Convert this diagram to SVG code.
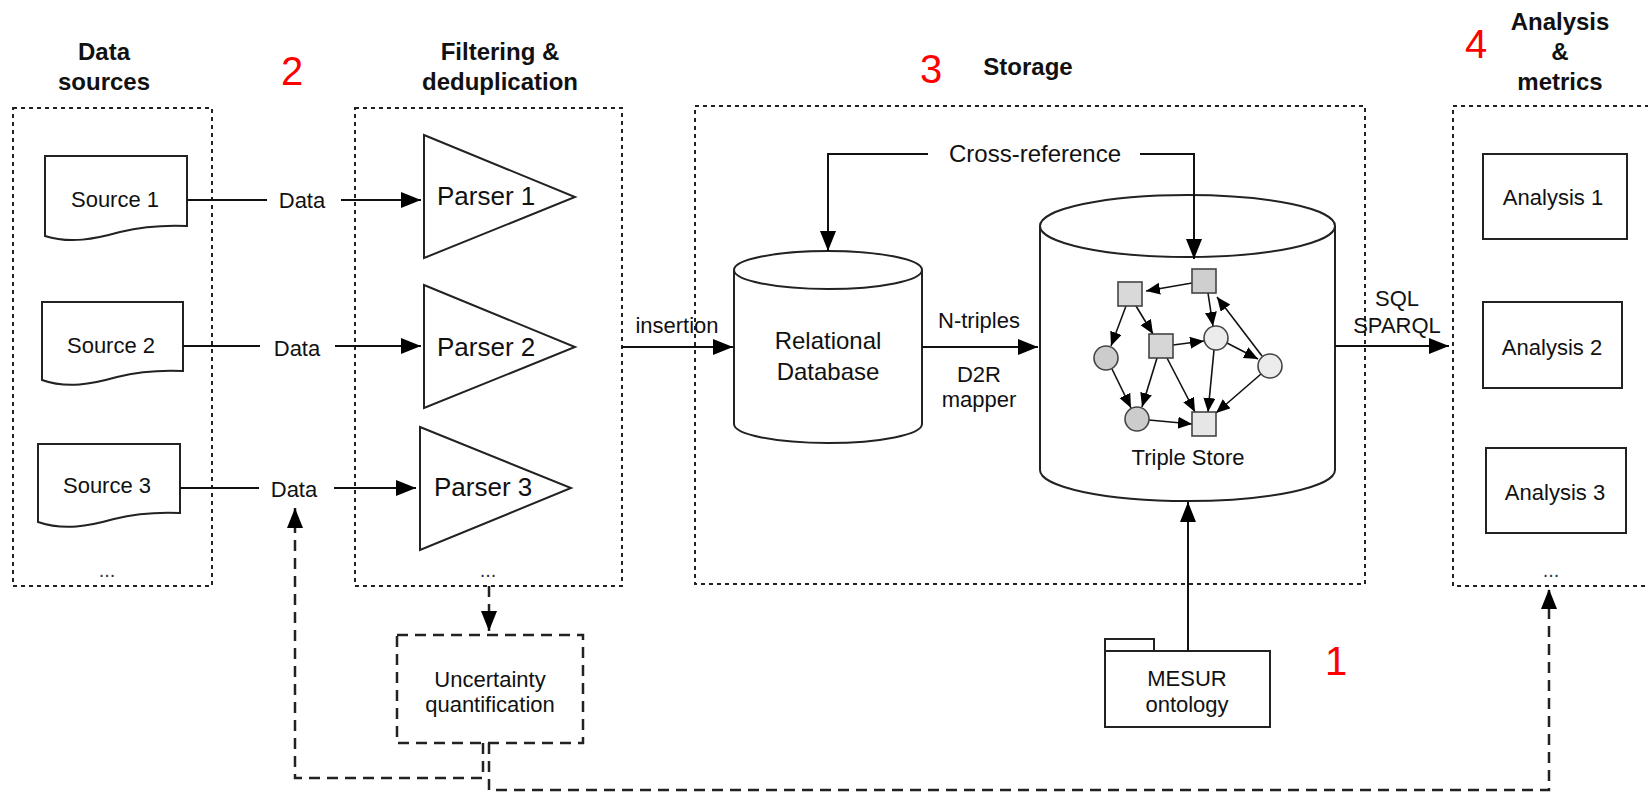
<svg xmlns="http://www.w3.org/2000/svg" width="1648" height="793" viewBox="0 0 1648 793">
<style>
text{font-family:"Liberation Sans",Arial,sans-serif;fill:#111}
.title{font-weight:bold;font-size:24px;text-anchor:middle}
.num{font-size:40px;fill:#ff0000;text-anchor:middle}
.lbl{font-size:22px;text-anchor:middle}
.dots{font-size:20px;text-anchor:middle;fill:#334}
.group{fill:none;stroke:#222;stroke-width:2;stroke-dasharray:4 4}
.shape{fill:#fff;stroke:#222;stroke-width:2}
.line{fill:none;stroke:#111;stroke-width:2}
.dash{fill:none;stroke:#222;stroke-width:2.5;stroke-dasharray:11 7}
.edge{fill:none;stroke:#111;stroke-width:1.6}
.sq{stroke:#444;stroke-width:1.6}
</style>
<defs>
<marker id="ah" markerUnits="userSpaceOnUse" markerWidth="22" markerHeight="18" refX="20" refY="8" orient="auto"><path d="M0,0 L20,8 L0,16 Z" fill="#000"/></marker>
<marker id="as" markerUnits="userSpaceOnUse" markerWidth="15" markerHeight="13" refX="14" refY="6" orient="auto"><path d="M0,0 L14,6 L0,12 Z" fill="#000"/></marker>
</defs>
<rect width="1648" height="793" fill="#fff"/>

<!-- section titles and numbers -->
<g id="titles">
<text class="title" x="104" y="60">Data</text>
<text class="title" x="104" y="90">sources</text>
<text class="title" x="500" y="60">Filtering &amp;</text>
<text class="title" x="500" y="90">deduplication</text>
<text class="title" x="1028" y="75">Storage</text>
<text class="title" x="1560" y="30">Analysis</text>
<text class="title" x="1560" y="60">&amp;</text>
<text class="title" x="1560" y="90">metrics</text>
<text class="num" x="292" y="85">2</text>
<text class="num" x="931" y="83">3</text>
<text class="num" x="1476" y="58">4</text>
<text class="num" x="1336" y="675">1</text>
</g>

<!-- group boxes -->
<g id="groups">
<rect class="group" x="13" y="108" width="199" height="478"/>
<rect class="group" x="355" y="108" width="267" height="478"/>
<rect class="group" x="695" y="106" width="670" height="478"/>
<rect class="group" x="1453" y="106" width="220" height="480"/>
<text class="dots" x="107" y="577">...</text>
<text class="dots" x="488" y="577">...</text>
<text class="dots" x="1551" y="577">...</text>
</g>

<!-- sources -->
<g id="source1">
<path class="shape" d="M45,156 H187 V226 C165,225 145,226 120,232 C95,239 70,244 45,236 Z"/>
<text class="lbl" x="115" y="207">Source 1</text>
</g>
<g id="source2">
<path class="shape" d="M42,302 H183 V371 C161,370 141,371 117,377 C92,384 67,389 42,380 Z"/>
<text class="lbl" x="111" y="353">Source 2</text>
</g>
<g id="source3">
<path class="shape" d="M38,444 H180 V513 C158,512 138,513 114,519 C89,526 64,531 38,522 Z"/>
<text class="lbl" x="107" y="493">Source 3</text>
</g>

<!-- parsers -->
<g id="parser1">
<path class="shape" d="M424,135 L575,197 L424,258 Z"/>
<text x="437" y="205" style="font-size:26px">Parser 1</text>
</g>
<g id="parser2">
<path class="shape" d="M424,285 L575,347 L424,408 Z"/>
<text x="437" y="356" style="font-size:26px">Parser 2</text>
</g>
<g id="parser3">
<path class="shape" d="M420,427 L571,488 L420,550 Z"/>
<text x="434" y="496" style="font-size:26px">Parser 3</text>
</g>

<!-- uncertainty -->
<g id="uncertainty">
<rect class="dash" x="397" y="635" width="186" height="108" fill="#fff"/>
<text class="lbl" x="490" y="687">Uncertainty</text>
<text class="lbl" x="490" y="712">quantification</text>
</g>

<!-- relational database -->
<g id="relational-db">
<path class="shape" d="M734,270 V424 A94,19 0 0 0 922,424 V270"/>
<ellipse class="shape" cx="828" cy="270" rx="94" ry="19"/>
<text class="lbl" x="828" y="349" style="font-size:24px">Relational</text>
<text class="lbl" x="828" y="380" style="font-size:24px">Database</text>
</g>

<!-- triple store -->
<g id="triple-store">
<path class="shape" d="M1040,226 V470 A147.5,31 0 0 0 1335,470 V226"/>
<ellipse class="shape" cx="1187.5" cy="226" rx="147.5" ry="31"/>
<text class="lbl" x="1188" y="465">Triple Store</text>
<g id="graph">
<path class="edge" d="M1192,283 L1146,291" marker-end="url(#as)"/>
<path class="edge" d="M1208,293 L1213,326" marker-end="url(#as)"/>
<path class="edge" d="M1262,356 L1217,297" marker-end="url(#as)"/>
<path class="edge" d="M1126,306 L1111,346" marker-end="url(#as)"/>
<path class="edge" d="M1136,306 L1153,334" marker-end="url(#as)"/>
<path class="edge" d="M1173,345 L1204,341" marker-end="url(#as)"/>
<path class="edge" d="M1227,343 L1258,359" marker-end="url(#as)"/>
<path class="edge" d="M1157,358 L1142,407" marker-end="url(#as)"/>
<path class="edge" d="M1167,358 L1195,412" marker-end="url(#as)"/>
<path class="edge" d="M1214,350 L1208,412" marker-end="url(#as)"/>
<path class="edge" d="M1261,374 L1216,413" marker-end="url(#as)"/>
<path class="edge" d="M1112,369 L1131,408" marker-end="url(#as)"/>
<path class="edge" d="M1149,420 L1192,424" marker-end="url(#as)"/>
<rect class="sq" x="1192" y="269" width="24" height="24" fill="#cfcfcf"/>
<rect class="sq" x="1118" y="282" width="24" height="24" fill="#d9d9d9"/>
<rect class="sq" x="1149" y="334" width="24" height="24" fill="#d6d6d6"/>
<rect class="sq" x="1192" y="412" width="24" height="24" fill="#e6e6e6"/>
<circle class="sq" cx="1106" cy="358" r="12" fill="#cccccc"/>
<circle class="sq" cx="1137" cy="419" r="12" fill="#cccccc"/>
<circle class="sq" cx="1216" cy="338" r="12" fill="#ececec"/>
<circle class="sq" cx="1270" cy="366" r="12" fill="#ececec"/>
</g>
</g>

<!-- MESUR ontology -->
<g id="mesur">
<rect class="shape" x="1105" y="639" width="49" height="12"/>
<rect class="shape" x="1105" y="651" width="165" height="76"/>
<text class="lbl" x="1187" y="686">MESUR</text>
<text class="lbl" x="1187" y="712">ontology</text>
</g>

<!-- analyses -->
<g id="analysis1">
<rect class="shape" x="1483" y="154" width="144" height="85"/>
<text class="lbl" x="1553" y="205">Analysis 1</text>
</g>
<g id="analysis2">
<rect class="shape" x="1483" y="302" width="139" height="86"/>
<text class="lbl" x="1552" y="355">Analysis 2</text>
</g>
<g id="analysis3">
<rect class="shape" x="1486" y="448" width="140" height="85"/>
<text class="lbl" x="1555" y="500">Analysis 3</text>
</g>

<!-- connectors -->
<g id="connectors">
<path class="line" d="M187,200 H267"/>
<path class="line" d="M341,200 H421" marker-end="url(#ah)"/>
<path class="line" d="M183,346 H260"/>
<path class="line" d="M335,346 H421" marker-end="url(#ah)"/>
<path class="line" d="M180,488 H259"/>
<path class="line" d="M334,488 H416" marker-end="url(#ah)"/>
<text class="lbl" x="302" y="208">Data</text>
<text class="lbl" x="297" y="356">Data</text>
<text class="lbl" x="294" y="497">Data</text>

<path class="line" d="M622,347 H733" marker-end="url(#ah)"/>
<text class="lbl" x="677" y="333">insertion</text>

<path class="line" d="M922,347 H1038" marker-end="url(#ah)"/>
<text class="lbl" x="979" y="328">N-triples</text>
<text class="lbl" x="979" y="382">D2R</text>
<text class="lbl" x="979" y="407">mapper</text>

<path class="line" d="M928,154 H828 V251" marker-end="url(#ah)"/>
<path class="line" d="M1140,154 H1194 V259" marker-end="url(#ah)"/>
<text class="lbl" x="1035" y="162" style="font-size:24px">Cross-reference</text>

<path class="line" d="M1335,346 H1449" marker-end="url(#ah)"/>
<text class="lbl" x="1397" y="306">SQL</text>
<text class="lbl" x="1397" y="333">SPARQL</text>

<path class="line" d="M1188,651 V502" marker-end="url(#ah)"/>

<path class="dash" d="M489,586 V631" marker-end="url(#ah)"/>
<path class="dash" d="M483,743 V778 H295 V508" marker-end="url(#ah)"/>
<path class="dash" d="M489,743 V790 H1549 V589" marker-end="url(#ah)"/>
</g>
</svg>
